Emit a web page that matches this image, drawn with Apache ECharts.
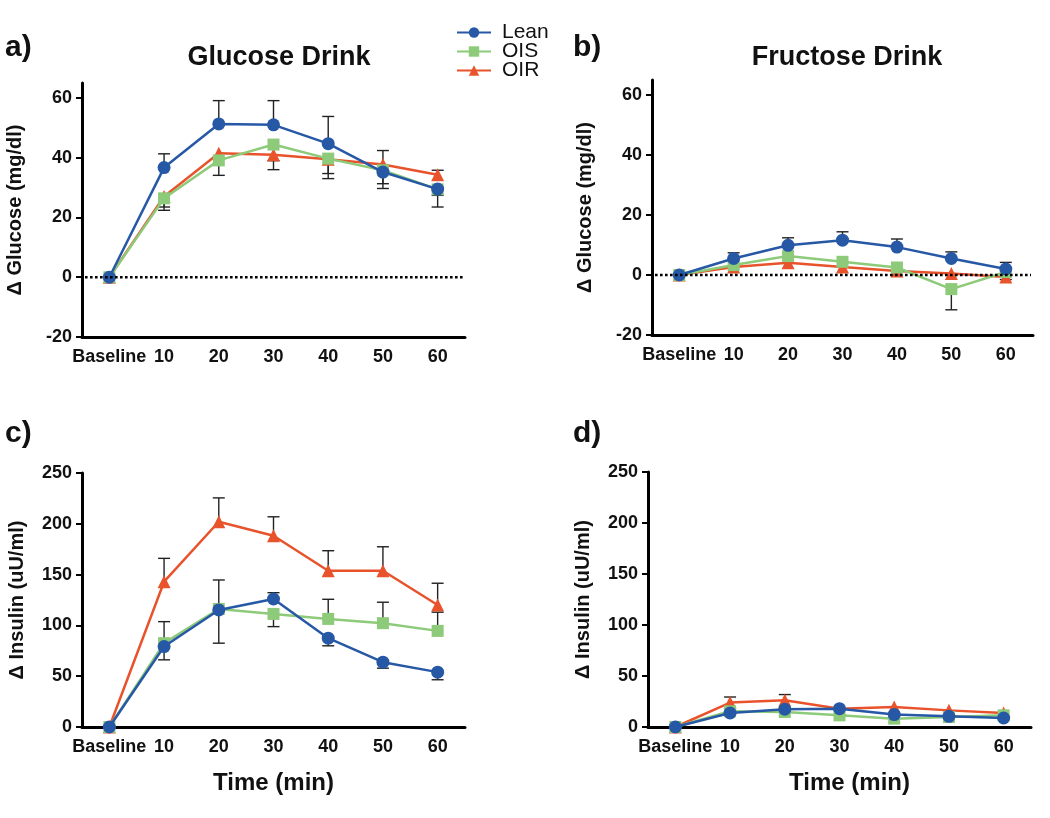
<!DOCTYPE html>
<html>
<head>
<meta charset="utf-8">
<script src="https://cdn.jsdelivr.net/npm/echarts@6/dist/echarts.min.js"></script>
<style>
html,body{margin:0;padding:0;background:#fff;}
#chart{width:1050px;height:818px;}
</style>
</head>
<body>
<div id="chart"></div>
<script>
// ---- categories & tick labels ----
const timeCats = ['Baseline', '10', '20', '30', '40', '50', '60'];
const glucoseTicks = [-20, 0, 20, 40, 60];
const insulinTicks = [0, 50, 100, 150, 200, 250];

// ---- a) Glucose drink: delta glucose (mean, signed SEM: + up / - down) ----
const glucLean    = [0, 36.7, 51.3, 51.0, 44.7, 35.2, 29.5];
const glucLeanErr = [0, 4.6, 7.8, 8.1, 9.1, 7.2, -6.0];
const glucOIS     = [0, 26.4, 39.1, 44.4, 39.7, 35.8, 29.4];
const glucOISErr  = [0, -4.0, -5.0, -8.4, -6.7, -6.1, -2.0];
const glucOIR     = [0, 27.0, 41.5, 41.0, 39.5, 37.7, 34.3];
const glucOIRErr  = [0, -3.5, 0, -2.0, -4.8, -6.4, 1.5];

// ---- b) Fructose drink: delta glucose ----
const frucLean    = [0, 5.5, 9.9, 11.6, 9.3, 5.5, 2.0];
const frucLeanErr = [0, 1.9, 2.5, 2.8, 2.7, 2.2, 2.2];
const frucOIS     = [0, 3.3, 6.3, 4.4, 2.5, -4.7, 1.0];
const frucOISErr  = [0, 0, 0, 0, 0, -6.9, 0];
const frucOIR     = [0, 2.7, 4.1, 2.7, 1.3, 0.5, -0.7];
const frucOIRErr  = [0, 0, 0, 0, 0, 0, -0.8];

// ---- c) Glucose drink: delta insulin ----
const insGLean    = [0, 79.2, 115.2, 126.0, 87.4, 63.8, 54.0];
const insGLeanErr = [0, -13.1, -32.7, 6.2, -7.5, -5.9, -7.5];
const insGOIS     = [0, 82.5, 116.2, 111.3, 106.4, 102.2, 94.6];
const insGOISErr  = [0, 21.2, 28.5, -12.5, 19.3, 20.6, 18.4];
const insGOIR     = [0, 143.0, 202.0, 188.2, 153.8, 153.8, 120.1];
const insGOIRErr  = [0, 23.0, 23.5, 18.7, 19.7, 23.6, 21.4];

// ---- d) Fructose drink: delta insulin ----
const insFLean    = [0, 13.7, 17.4, 18.0, 12.2, 10.5, 8.8];
const insFLeanErr = [0, 0, 0, 0, 0, 0, 0];
const insFOIS     = [0, 15.4, 14.7, 11.4, 8.2, 9.8, 11.4];
const insFOISErr  = [0, 0, 0, 0, 0, 0, 0];
const insFOIR     = [0, 23.9, 26.2, 18.0, 19.6, 16.3, 13.7];
const insFOIRErr  = [0, 5.5, 5.6, 0, 0, 0, 0];

// ---- reference line value ----
const zeroRef = [0];

// ---- styling ----
const FONT = "'Liberation Sans', Arial, sans-serif";
const INK = '#111';
const COLORS = { Lean: '#2658a6', OIS: '#8dca79', OIR: '#e8532c' };
const SYMBOLS = { Lean: 'circle', OIS: 'rect', OIR: 'triangle' };
const SYMSIZE = { Lean: 13, OIS: 12, OIR: 13 };

const chart = echarts.init(document.getElementById('chart'), null, { renderer: 'canvas' });

const grids = [
  { left: 82,  top: 83,  width: 383, height: 254 },
  { left: 652, top: 80,  width: 381, height: 255 },
  { left: 82,  top: 473, width: 383, height: 254 },
  { left: 648, top: 472, width: 383, height: 255 }
];

function xAxisDef(idx, withName, namePad) {
  return {
    type: 'category', gridIndex: idx, data: timeCats, boundaryGap: true,
    axisLine: { onZero: false, lineStyle: { color: '#000', width: 3 } },
    axisTick: { alignWithLabel: true, length: 6, lineStyle: { color: '#000', width: 2 } },
    axisLabel: { interval: 0, color: INK, fontSize: 18, fontWeight: 'bold', fontFamily: FONT, margin: 11 },
    splitLine: { show: false },
    name: withName ? 'Time (min)' : '',
    nameLocation: 'middle', nameGap: 44,
    nameTextStyle: { color: INK, fontSize: 24, fontWeight: 'bold', fontFamily: FONT, padding: namePad || 0 }
  };
}
function yAxisDef(idx, name, min, max, interval, ticks, gap) {
  return {
    type: 'value', gridIndex: idx, min: min, max: max, interval: interval,
    axisLine: { show: true, onZero: false, lineStyle: { color: '#000', width: 3 } },
    axisTick: { show: true, length: 6, customValues: ticks, lineStyle: { color: '#000', width: 2 } },
    axisLabel: { customValues: ticks, color: INK, fontSize: 18, fontWeight: 'bold', fontFamily: FONT, margin: 10 },
    splitLine: { show: false },
    name: name, nameLocation: 'middle', nameGap: gap,
    nameTextStyle: { color: INK, fontSize: 20, fontWeight: 'bold', fontFamily: FONT }
  };
}

function lineSeries(name, idx, values) {
  return {
    type: 'line', name: name, xAxisIndex: idx, yAxisIndex: idx, data: values,
    symbol: SYMBOLS[name], symbolSize: SYMSIZE[name], showSymbol: true,
    lineStyle: { color: COLORS[name], width: 2.5 },
    itemStyle: { color: COLORS[name], borderWidth: 0 },
    z: name === 'Lean' ? 5 : (name === 'OIS' ? 4 : 3),
    animation: false
  };
}

// dotted horizontal reference line across the full grid at y = value
function zeroLineSeries(idx) {
  return {
    type: 'custom', xAxisIndex: idx, yAxisIndex: idx, z: 6, silent: true, animation: false,
    data: zeroRef.map(function (v) { return [0, v]; }),
    encode: { x: 0, y: 1 },
    renderItem: function (params, api) {
      const cs = params.coordSys;
      const y = api.coord([0, api.value(1)])[1];
      return {
        type: 'line',
        shape: { x1: cs.x + 3, y1: y, x2: cs.x + cs.width - 2, y2: y },
        style: { stroke: '#000', lineWidth: 2.6, lineDash: [2.6, 2.4] }
      };
    }
  };
}

function errSeries(idx, values, errs) {
  const data = [];
  values.forEach(function (v, i) { if (errs[i]) data.push([i, v, errs[i]]); });
  return {
    type: 'custom', xAxisIndex: idx, yAxisIndex: idx, data: data, z: 2,
    encode: { x: 0, y: 1 }, silent: true, animation: false,
    renderItem: function (params, api) {
      const x = api.value(0), y = api.value(1), e = api.value(2);
      const p0 = api.coord([x, y]);
      const p1 = api.coord([x, y + e]);
      const hw = 6;
      const st = { stroke: '#222', lineWidth: 1.4 };
      return {
        type: 'group',
        children: [
          { type: 'line', shape: { x1: p0[0], y1: p0[1], x2: p1[0], y2: p1[1] }, style: st },
          { type: 'line', shape: { x1: p1[0] - hw, y1: p1[1], x2: p1[0] + hw, y2: p1[1] }, style: st }
        ]
      };
    }
  };
}

const panels = [
  { lean: glucLean, leanE: glucLeanErr, ois: glucOIS, oisE: glucOISErr, oir: glucOIR, oirE: glucOIRErr, zero: true },
  { lean: frucLean, leanE: frucLeanErr, ois: frucOIS, oisE: frucOISErr, oir: frucOIR, oirE: frucOIRErr, zero: true },
  { lean: insGLean, leanE: insGLeanErr, ois: insGOIS, oisE: insGOISErr, oir: insGOIR, oirE: insGOIRErr, zero: false },
  { lean: insFLean, leanE: insFLeanErr, ois: insFOIS, oisE: insFOISErr, oir: insFOIR, oirE: insFOIRErr, zero: false }
];

const series = [];
panels.forEach(function (p, i) {
  series.push(errSeries(i, p.oir, p.oirE));
  series.push(errSeries(i, p.ois, p.oisE));
  series.push(errSeries(i, p.lean, p.leanE));
  series.push(lineSeries('OIR', i, p.oir));
  series.push(lineSeries('OIS', i, p.ois));
  series.push(lineSeries('Lean', i, p.lean));
  if (p.zero) series.push(zeroLineSeries(i));
});

const titleStyle = { color: INK, fontFamily: FONT, fontWeight: 'bold' };
const option = {
  animation: false,
  backgroundColor: '#fff',
  textStyle: { fontFamily: FONT },
  title: [
    { text: 'a)', left: 0, top: 28, textStyle: Object.assign({ fontSize: 30 }, titleStyle) },
    { text: 'b)', left: 568, top: 28, textStyle: Object.assign({ fontSize: 30 }, titleStyle) },
    { text: 'c)', left: 0, top: 414, textStyle: Object.assign({ fontSize: 30 }, titleStyle) },
    { text: 'd)', left: 568, top: 414, textStyle: Object.assign({ fontSize: 30 }, titleStyle) },
    { text: 'Glucose Drink', left: 274, top: 39, textAlign: 'center', textStyle: Object.assign({ fontSize: 27 }, titleStyle) },
    { text: 'Fructose Drink', left: 842, top: 39, textAlign: 'center', textStyle: Object.assign({ fontSize: 27 }, titleStyle) }
  ],
  legend: {
    data: ['Lean', 'OIS', 'OIR'], orient: 'vertical', left: 451, top: 17,
    itemWidth: 34, itemHeight: 13, itemGap: -2,
    textStyle: { color: INK, fontSize: 21, fontFamily: FONT, lineHeight: 19, padding: [0, 0, 0, 6] },
    selectedMode: false
  },
  grid: grids,
  xAxis: [xAxisDef(0, false), xAxisDef(1, false), xAxisDef(2, true), xAxisDef(3, true, [0, 0, 0, 20])],
  yAxis: [
    yAxisDef(0, 'Δ Glucose (mg/dl)', -20, 65, 20, glucoseTicks, 57),
    yAxisDef(1, 'Δ Glucose (mg/dl)', -20, 65, 20, glucoseTicks, 57),
    yAxisDef(2, 'Δ Insulin (uU/ml)', 0, 250, 50, insulinTicks, 55),
    yAxisDef(3, 'Δ Insulin (uU/ml)', 0, 250, 50, insulinTicks, 55)
  ],
  series: series
};
chart.setOption(option);
</script>
</body>
</html>
